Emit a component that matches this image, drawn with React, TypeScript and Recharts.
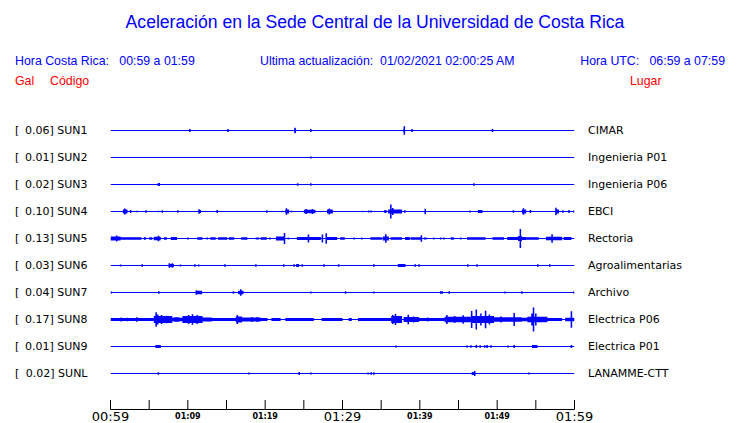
import { ComposedChart, Area, XAxis, YAxis } from "recharts";

// station codes, peak acceleration (Gal) and place names, top to bottom
const codes = ["SUN1", "SUN2", "SUN3", "SUN4", "SUN5", "SUN6", "SUN7", "SUN8", "SUN9", "SUNL"];
const gals = [0.06, 0.01, 0.02, 0.1, 0.13, 0.03, 0.04, 0.17, 0.01, 0.02];
const places = [
  "CIMAR",
  "Ingenieria P01",
  "Ingenieria P06",
  "EBCI",
  "Rectoria",
  "Agroalimentarias",
  "Archivo",
  "Electrica P06",
  "Electrica P01",
  "LANAMME-CTT",
];

// minutes after 00:59, every 5 min; labels only every 10
const tickMinutes = [0, 5, 10, 15, 20, 25, 30, 35, 40, 45, 50, 55, 60];
const tickLabels = ["00:59", "", "01:09", "", "01:19", "", "01:29", "", "01:39", "", "01:49", "", "01:59"];
const bigLabels = ["00:59", "01:29", "01:59"];

// [start min, end min, half amplitude] -- start == end is a single spike
type Burst = [number, number, number];

const sun1: Burst[] = [
  [10.26, 10.26, 1.5], [15.2, 15.2, 1.5], [23.75, 24.0, 1.7], [23.85, 23.85, 2.8],
  [25.9, 25.9, 1.5], [37.85, 38.1, 1.7], [38.0, 38.0, 4.3], [38.9, 39.1, 1.4], [49.4, 49.4, 1.5],
];
const sun2: Burst[] = [[25.9, 25.9, 1]];
const sun3: Burst[] = [[6.1, 6.4, 1.5], [24.2, 24.2, 1.2], [25.9, 25.9, 1.3], [47.0, 47.0, 1.2]];
const sun4: Burst[] = [
  [1.6, 2.2, 2], [1.85, 1.85, 3], [2.6, 2.6, 1.5], [3.4, 3.4, 0.8], [4.6, 4.6, 1.3],
  [6.2, 6.2, 0.8], [6.7, 6.7, 1.3], [8.7, 8.7, 1.3], [11.4, 11.7, 1.5], [11.45, 11.45, 2.2],
  [13.7, 13.9, 1.5], [20.2, 20.2, 1.3], [22.2, 22.2, 0.8], [22.6, 23.1, 2], [22.75, 22.75, 3.2],
  [23.4, 23.4, 0.8], [25.0, 26.5, 1.7], [25.3, 25.3, 2.5], [26.1, 26.1, 2.5], [28.0, 28.75, 2],
  [28.3, 28.3, 3], [32.6, 32.6, 0.8], [33.4, 33.4, 1], [33.7, 33.7, 1], [35.4, 35.7, 1.5],
  [35.9, 37.7, 2], [36.25, 36.25, 7], [36.5, 36.5, 3.5], [38.06, 38.06, 1.3], [40.6, 40.8, 1.5],
  [40.7, 40.7, 2.7], [46.5, 46.5, 1], [47.5, 48.1, 1.5], [52.1, 52.1, 1.3], [53.2, 53.75, 2],
  [53.4, 53.4, 3.2], [54.3, 54.3, 1.5], [57.5, 58.0, 2], [57.6, 57.6, 3.7], [58.5, 58.5, 1.3],
  [59.2, 59.4, 1.5], [59.9, 59.9, 1],
];
const sun5: Burst[] = [
  [0, 1.3, 2], [0.8, 0.8, 3], [1.3, 4.0, 1.3], [4.3, 4.6, 1.3], [5.0, 5.4, 1.3], [5.6, 6.5, 1.8],
  [6.2, 6.2, 2.7], [6.9, 7.3, 1.3], [7.8, 8.6, 1.5], [10.0, 10.0, 1], [11.2, 11.9, 1.3],
  [12.5, 12.5, 1], [12.9, 13.6, 1.3], [13.9, 15.1, 1.3], [15.3, 16.0, 1.3], [16.9, 17.7, 1.3],
  [18.75, 19.2, 1], [19.4, 20.2, 1.3], [20.6, 20.6, 1], [21.4, 22.6, 2], [22.5, 22.5, 5.5],
  [23.0, 23.0, 1], [24.1, 27.2, 1.5], [25.6, 25.6, 4], [27.4, 27.4, 4], [27.9, 27.9, 5.3],
  [28.0, 29.3, 1.5], [29.7, 30.3, 1.3], [31.5, 31.5, 1], [32.5, 32.5, 1], [33.6, 35.1, 1.3],
  [35.2, 36.0, 2], [35.6, 35.6, 4.3], [36.2, 37.7, 1.3], [38.1, 38.7, 1.5], [38.8, 40.1, 1.3],
  [40.2, 40.2, 3.2], [40.5, 40.9, 1], [41.8, 41.8, 1], [42.7, 42.7, 1], [43.1, 43.1, 1],
  [44.0, 44.4, 1.3], [45.3, 45.3, 1], [46.1, 48.5, 1.3], [49.4, 50.9, 1.3], [51.3, 53.7, 1.5],
  [52.7, 53.2, 2.5], [53.0, 53.0, 9.5], [53.7, 55.4, 1.3], [56.3, 58.4, 1.8], [57.1, 57.1, 4.2],
  [58.6, 59.6, 1.5],
];
const sun6: Burst[] = [
  [1.3, 1.3, 1], [4.1, 4.1, 1.3], [7.5, 8.2, 1.5], [7.6, 7.6, 2.2], [8.0, 8.0, 2.2],
  [9.05, 9.05, 1], [10.9, 10.9, 1.3], [11.4, 11.4, 1], [14.8, 14.8, 1.3], [18.8, 18.8, 1.3],
  [22.4, 22.4, 1.3], [23.75, 23.75, 1.3], [24.0, 24.4, 1.5], [24.8, 24.8, 1.3], [27.6, 27.6, 1.3],
  [29.5, 29.5, 1.3], [34.05, 34.05, 1.3], [37.15, 38.15, 1.5], [39.4, 39.4, 1.3], [39.9, 39.9, 1.3],
  [46.2, 46.2, 1.3], [47.4, 47.4, 1.3], [55.25, 55.25, 1.3], [56.8, 56.8, 1.3],
];
const sun7: Burst[] = [
  [0.05, 0.05, 1.3], [6.25, 6.25, 1.3], [11.0, 11.85, 1.8], [11.1, 11.1, 2.3], [15.9, 15.9, 1.3],
  [16.5, 17.2, 1.8], [16.85, 16.85, 3.2], [25.9, 25.9, 1], [30.3, 30.5, 1.3], [34.05, 34.05, 1],
  [42.6, 43.0, 1.3], [43.8, 43.8, 1.3], [51.0, 51.0, 1], [53.1, 53.3, 1.3], [59.95, 59.95, 1.3],
];
const sun8: Burst[] = [
  [0, 5.6, 1.5], [1.4, 1.4, 2], [2.2, 2.2, 1.7], [3.4, 3.4, 2.3],
  [5.6, 8.0, 3.5], [5.9, 5.9, 7.3], [6.1, 6.1, 5], [6.6, 6.6, 4.5], [7.3, 7.3, 3.8],
  [8.0, 9.3, 1.8], [8.2, 8.9, 2.2],
  [9.3, 11.9, 3.5], [10.1, 10.1, 4.5], [10.6, 10.6, 5.3], [11.2, 11.2, 4.5],
  [11.9, 13.1, 2], [13.1, 16.2, 1.5],
  [16.2, 17.0, 3], [16.4, 16.4, 4.5], [17.0, 19.4, 2], [18.3, 18.3, 2.5], [19.0, 19.0, 2.5],
  [19.4, 20.3, 1.5], [20.8, 22.0, 1.5], [22.6, 26.3, 1.5], [27.3, 30.0, 1.5], [30.8, 31.2, 1.5],
  [32.0, 36.3, 1.5],
  [36.3, 37.7, 3.5], [36.5, 36.5, 4.5], [36.85, 36.85, 5.5],
  [37.9, 39.9, 2.5], [38.5, 38.5, 4.8], [39.2, 39.2, 3],
  [39.9, 43.2, 1.5], [41.0, 41.0, 2],
  [43.2, 46.8, 2.8], [43.5, 43.5, 4.5], [44.5, 44.5, 3.5], [45.6, 45.6, 4.3], [46.7, 46.7, 8.5],
  [46.8, 49.6, 3.5], [47.3, 47.3, 10], [47.9, 47.9, 6], [48.5, 48.5, 8.7], [49.0, 49.0, 5],
  [49.6, 53.2, 2.2], [50.5, 50.5, 3], [52.2, 52.2, 6.5],
  [53.2, 53.9, 1.8],
  [53.9, 56.5, 2.8], [54.5, 54.5, 6], [54.7, 54.7, 12], [55.0, 55.0, 6],
  [56.5, 58.4, 1.5], [58.8, 60, 1.8], [59.6, 59.6, 8.3],
];
const sun9: Burst[] = [
  [5.8, 6.5, 1.5], [36.9, 36.9, 1], [46.1, 46.1, 1], [46.6, 46.6, 1.3], [47.3, 47.3, 1.5],
  [47.8, 47.8, 1.3], [48.4, 48.4, 1.3], [48.7, 48.7, 1.5], [49.2, 49.2, 1.3], [51.4, 51.4, 1],
  [52.2, 52.2, 1.5], [54.5, 55.2, 1.5], [59.6, 59.6, 1.5],
];
const sunL: Burst[] = [
  [6.2, 6.2, 1.3], [17.9, 17.9, 1], [24.3, 24.5, 1.5], [25.9, 25.9, 1], [33.3, 33.3, 1],
  [33.7, 33.7, 1.3], [34.05, 34.05, 1.3], [46.7, 47.2, 1.5], [47.1, 47.1, 2.5], [54.1, 54.1, 1],
];

const traces = [sun1, sun2, sun3, sun4, sun5, sun6, sun7, sun8, sun9, sunL];

// y axis is in pixels: 27 px between traces
const offsets = codes.map((_, i) => 279 - 27 * i);

// turn the bursts into a stepped envelope [low, high] around the trace's baseline
function envelope(bursts: Burst[], off: number) {
  const spans = bursts.map(([a, b, h]) =>
    a === b ? [Math.max(0, a - 0.1), Math.min(60, a + 0.1), h] : [a, b, h]
  );
  const edges = Array.from(new Set([0, 60, ...spans.flatMap((s) => [s[0], s[1]])])).sort((a, b) => a - b);
  const pts: { t: number; band: [number, number] }[] = [];
  for (let k = 0; k < edges.length - 1; k++) {
    const x0 = edges[k];
    const x1 = edges[k + 1];
    const mid = (x0 + x1) / 2;
    const h = Math.max(0.5, ...spans.filter((s) => s[0] <= mid && s[1] >= mid).map((s) => s[2]));
    pts.push({ t: x0, band: [off - h, off + h] }, { t: x1, band: [off - h, off + h] });
  }
  return pts;
}

const labelFont = "'DejaVu Sans', sans-serif";

function LeftTick(props: any) {
  const i = offsets.indexOf(props.payload.value);
  if (i < 0) return null;
  return (
    <g fontFamily={labelFont} fontSize={11} fill="#000">
      <text x={15} y={props.y} dy="0.36em">[</text>
      <text x={87.5} y={props.y} dy="0.36em" textAnchor="end">
        {gals[i].toFixed(2)}] {codes[i]}
      </text>
    </g>
  );
}

function RightTick(props: any) {
  const i = offsets.indexOf(props.payload.value);
  if (i < 0) return null;
  return (
    <text x={588} y={props.y} dy="0.36em" fontFamily={labelFont} fontSize={11} fill="#000">
      {places[i]}
    </text>
  );
}

function TimeTick(props: any) {
  const i = tickMinutes.indexOf(props.payload.value);
  const label = tickLabels[i] ?? "";
  const big = bigLabels.includes(label);
  return (
    <g>
      <line x1={props.x} x2={props.x} y1={props.y - 9.5} y2={props.y} stroke="#000" />
      {label && (
        <text
          x={props.x}
          y={props.y + (big ? 7 : 6.5)}
          dy="0.36em"
          textAnchor="middle"
          fontFamily={labelFont}
          fontSize={big ? 13 : 8}
          fontWeight={big ? "normal" : "bold"}
          fill="#000"
        >
          {label}
        </text>
      )}
    </g>
  );
}

const head: React.CSSProperties = {
  position: "absolute",
  fontFamily: "'Liberation Sans', Arial, sans-serif",
  fontSize: 12.35,
  lineHeight: "14px",
  whiteSpace: "pre",
  color: "#0000ff",
};

export default function App() {
  return (
    <div style={{ position: "absolute", left: 0, top: 0, width: 740, height: 423, background: "#fff" }}>
      <div style={{ ...head, left: 0, width: 750, top: 12, fontSize: 17.6, lineHeight: "20px", textAlign: "center" }}>
        Aceleración en la Sede Central de la Universidad de Costa Rica
      </div>
      <div style={{ ...head, left: 15, top: 54 }}>Hora Costa Rica:   00:59 a 01:59</div>
      <div style={{ ...head, left: 260, top: 54 }}>Ultima actualización:  01/02/2021 02:00:25 AM</div>
      <div style={{ ...head, right: 15, top: 54 }}>Hora UTC:   06:59 a 07:59</div>
      <div style={{ ...head, left: 15, top: 74, color: "#ff0000" }}>Gal</div>
      <div style={{ ...head, left: 50, top: 74, color: "#ff0000" }}>Código</div>
      <div style={{ ...head, left: 630, top: 74, color: "#ff0000" }}>Lugar</div>

      <div style={{ position: "absolute", left: 0, top: 0 }}>
        <ComposedChart width={740} height={423} margin={{ top: 117.5, right: 0, bottom: 0, left: 0 }}>
          <XAxis
            type="number"
            dataKey="t"
            domain={[0, 60]}
            ticks={tickMinutes}
            interval={0}
            height={13.5}
            tickLine={false}
            tickSize={0}
            tickMargin={0}
            axisLine={{ stroke: "#000" }}
            tick={<TimeTick />}
            allowDataOverflow
          />
          <YAxis
            type="number"
            domain={[0, 292]}
            ticks={offsets}
            interval={0}
            width={110.5}
            axisLine={false}
            tickLine={false}
            tick={<LeftTick />}
            allowDataOverflow
          />
          <YAxis
            yAxisId="r"
            orientation="right"
            type="number"
            domain={[0, 292]}
            ticks={offsets}
            interval={0}
            width={165.5}
            axisLine={false}
            tickLine={false}
            tick={<RightTick />}
            allowDataOverflow
          />
          {traces.map((bursts, i) => (
            <Area
              key={codes[i]}
              data={envelope(bursts, offsets[i])}
              dataKey="band"
              type="linear"
              stroke="none"
              fill="#0000ff"
              fillOpacity={1}
              isAnimationActive={false}
            />
          ))}
        </ComposedChart>
      </div>
    </div>
  );
}
